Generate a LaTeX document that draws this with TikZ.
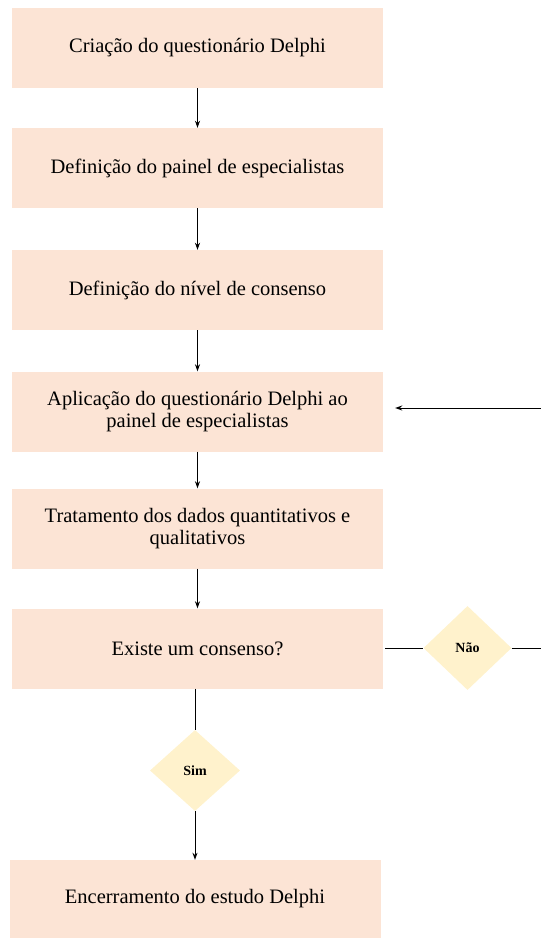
\documentclass[tikz,border=0pt]{standalone}
\usepackage{fontspec}
\setmainfont{Liberation Serif}
\usetikzlibrary{shapes.geometric,arrows.meta}
\definecolor{caixa}{RGB}{252,228,213}
\definecolor{losango}{RGB}{255,242,204}
\tikzset{
  etapa/.style={fill=caixa, minimum width=371pt, minimum height=80pt, inner sep=0pt,
    align=center, font=\fontsize{20.5}{22}\selectfont},
  decisao/.style={diamond, fill=losango, minimum width=88pt, minimum height=84pt, inner sep=0pt,
    font=\fontsize{14}{16}\selectfont\bfseries},
  seta/.style={line width=1pt, -{Stealth[length=7pt,width=5pt]}},
  linha/.style={line width=1pt}
}
\begin{document}
\begin{tikzpicture}[x=1pt, y=-1pt]
\useasboundingbox (0,0) rectangle (541,938);
\node [etapa] (criacao) at (197.5,48) {Criação do questionário Delphi};
\node [etapa] (painel) at (197.5,168) {Definição do painel de especialistas};
\node [etapa] (nivel) at (197.5,290) {Definição do nível de consenso};
\node [etapa] (aplicacao) at (197.5,411.5) {Aplicação do questionário Delphi ao\\painel de especialistas};
\node [etapa] (tratamento) at (197.5,528.5) {Tratamento dos dados quantitativos e\\qualitativos};
\node [etapa] (consenso) at (197.5,648.5) {Existe um consenso?};
\node [decisao] (nao) at (467.5,648) {Não};
\node [decisao, minimum width=90pt, minimum height=81pt] (sim) at (195,770.5) {Sim};
\node [etapa, minimum height=78pt] (fim) at (195,899) {Encerramento do estudo Delphi};
\coordinate (saida) at (541,648);
\coordinate (volta) at (541,408);
\draw [seta] (criacao) -- (painel);
\draw [seta] (painel) -- (nivel);
\draw [seta] (nivel) -- (aplicacao);
\draw [seta] (aplicacao) -- (tratamento);
\draw [seta] (tratamento) -- (consenso);
\draw [linha] (consenso.south -| sim.north) -- (sim.north);
\draw [seta] (sim.south) -- (fim.north -| sim.south);
\draw [linha, shorten <=2pt] (consenso.east |- nao.west) -- (nao.west);
\draw [linha] (nao.east) -- (saida);
\draw [seta, shorten >=12pt] (volta) -- (volta -| aplicacao.east);
\end{tikzpicture}
\end{document}
